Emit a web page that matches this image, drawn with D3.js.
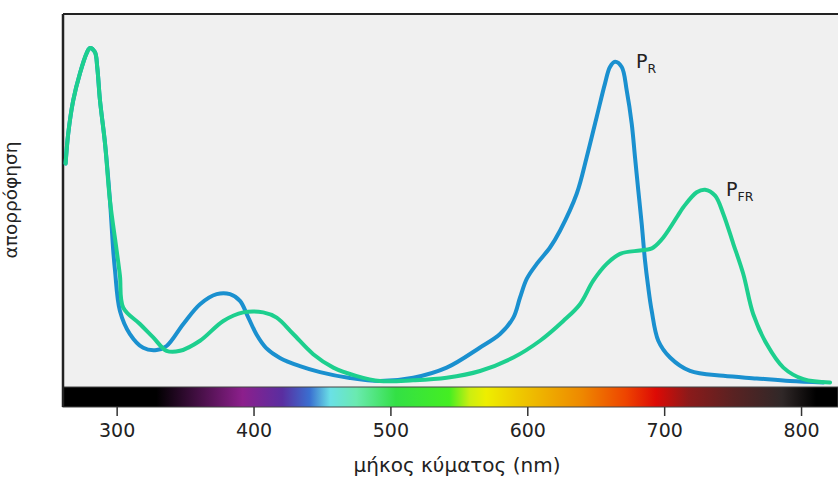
<!DOCTYPE html>
<html>
<head>
<meta charset="utf-8">
<script src="https://cdn.jsdelivr.net/npm/d3@7"></script>
<style>
  body { margin: 0; background: #fff; }
  text { font-family: "DejaVu Sans", sans-serif; fill: #222; }
</style>
</head>
<body>
<svg class="chart"></svg>
<script>
// wavelengths (nm) and relative absorbance
const prWavelength = [262.7, 264.6, 268.3, 273.2, 278.1, 280.5, 284.1, 285.8, 287.8, 291.5, 295.1,
  297.5, 298.8, 302.4, 309.7, 319.4, 329.2, 336.5, 348.7, 360.9, 373.1, 382.8, 390.1, 396.2, 402.3,
  409.1, 419.3, 433.9, 448.6, 470.4, 492.4, 516.7, 541.1, 565.5, 580.1, 589.8, 594.7, 599.6, 606.9,
  616.6, 623.9, 636.1, 643.4, 650.7, 656.8, 660.4, 664.1, 669.0, 672.6, 676.3, 678.7, 681.1, 683.6,
  686.0, 688.2, 690.9, 695.7, 704.3, 718.9, 743.2, 767.6, 791.9, 816.3];
const prAbsorbance = [0.599, 0.679, 0.769, 0.841, 0.895, 0.909, 0.898, 0.858, 0.769, 0.653, 0.500,
  0.366, 0.312, 0.204, 0.142, 0.105, 0.099, 0.110, 0.169, 0.222, 0.249, 0.249, 0.231, 0.186, 0.140,
  0.105, 0.078, 0.056, 0.040, 0.024, 0.016, 0.025, 0.052, 0.106, 0.142, 0.186, 0.240, 0.290, 0.330,
  0.374, 0.419, 0.518, 0.616, 0.724, 0.814, 0.858, 0.872, 0.858, 0.796, 0.706, 0.616, 0.527, 0.437,
  0.339, 0.272, 0.204, 0.124, 0.079, 0.043, 0.030, 0.023, 0.016, 0.012];

const pfrWavelength = [262.7, 264.6, 268.3, 273.2, 278.1, 280.5, 284.1, 285.8, 287.8, 291.5, 295.1,
  300.0, 302.4, 304.8, 317.0, 326.7, 336.5, 346.3, 360.9, 377.9, 392.5, 407.1, 416.9, 429.0, 443.6,
  458.3, 474.9, 492.4, 516.5, 541.1, 565.5, 589.8, 609.3, 626.3, 638.5, 648.2, 658.0, 667.7, 682.3,
  689.7, 692.1, 699.4, 711.6, 714.0, 723.8, 729.9, 737.2, 743.2, 750.5, 757.8, 765.1, 774.9, 787.1,
  801.7, 821.2];
const pfrAbsorbance = [0.599, 0.679, 0.769, 0.841, 0.895, 0.909, 0.898, 0.858, 0.769, 0.653, 0.500,
  0.366, 0.298, 0.213, 0.169, 0.133, 0.097, 0.097, 0.124, 0.177, 0.200, 0.200, 0.186, 0.142, 0.088,
  0.052, 0.030, 0.016, 0.018, 0.025, 0.043, 0.079, 0.124, 0.177, 0.222, 0.285, 0.330, 0.357, 0.366,
  0.370, 0.374, 0.401, 0.469, 0.482, 0.522, 0.529, 0.513, 0.464, 0.384, 0.303, 0.195, 0.115, 0.052,
  0.021, 0.012];

const xTicks = [300, 400, 500, 600, 700, 800];

// visible light spectrum under the plot
const spectrumNm = [329, 392, 421, 441, 456, 475, 504, 543, 558, 570, 592, 640, 672, 694, 718, 750, 786, 811];
const spectrumColor = ["#000000", "#8c1f8c", "#5a2ea0", "#3a6fd0", "#6ae0e6", "#6aeab0", "#33e045",
  "#44ee22", "#ccee11", "#eeee00", "#eecc00", "#ee8800", "#ee4400", "#dd0a05", "#8b1a1a", "#5a2222",
  "#302828", "#000000"];

const series = [
  {name: "R", color: "#1a90cf", wl: prWavelength, ab: prAbsorbance},
  {name: "FR", color: "#1dcf8e", wl: pfrWavelength, ab: pfrAbsorbance}
];

const margin = {top: 14, right: 0, bottom: 90, left: 63};
const width = 838 - margin.left - margin.right;
const height = 477 - margin.top - margin.bottom;
const barHeight = 20;

const x = d3.scaleLinear().domain([260.8, 827]).range([0, width]);
const y = d3.scaleLinear().domain([0, 1]).range([height, 0]);

const svg = d3.select(".chart")
    .attr("width", 838)
    .attr("height", 477)
  .append("g")
    .attr("transform", "translate(" + margin.left + "," + margin.top + ")");

svg.append("rect")
    .attr("width", width)
    .attr("height", height)
    .style("fill", "#f0f0f0");

// spectrum bar
const grad = svg.append("defs").append("linearGradient")
    .attr("id", "spectrum")
    .attr("gradientUnits", "userSpaceOnUse")
    .attr("x1", 0).attr("x2", width).attr("y1", 0).attr("y2", 0);

grad.selectAll("stop")
    .data(spectrumNm)
  .enter().append("stop")
    .attr("offset", d => x(d) / width)
    .attr("stop-color", (d, i) => spectrumColor[i]);

svg.append("rect")
    .attr("y", height)
    .attr("width", width)
    .attr("height", barHeight)
    .style("fill", "url(#spectrum)")
    .style("stroke", "#444")
    .style("stroke-width", 1);

// x axis below the bar
const xAxis = svg.append("g")
    .attr("transform", "translate(0," + (height + barHeight) + ")")
    .call(d3.axisBottom(x).tickValues(xTicks).tickSize(9).tickPadding(8));

xAxis.select(".domain").remove();
xAxis.selectAll(".tick line").style("stroke", "#333").style("stroke-width", 1.5);
xAxis.selectAll(".tick text")
    .style("font-family", "DejaVu Sans, sans-serif")
    .style("font-size", "19px")
    .style("fill", "#222");

// frame: left and top
svg.append("line")
    .attr("x1", 0).attr("x2", 0)
    .attr("y1", 0).attr("y2", height + barHeight)
    .style("stroke", "#222").style("stroke-width", 2.5);

svg.append("line")
    .attr("x1", 0).attr("x2", width)
    .attr("y1", 0).attr("y2", 0)
    .style("stroke", "#222").style("stroke-width", 2);

const line = d3.line()
    .x(d => x(d[0]))
    .y(d => y(d[1]))
    .curve(d3.curveCatmullRom.alpha(0.5));

series.forEach(s => {
  const pts = s.wl.map((w, i) => [w, s.ab[i]]);
  svg.append("path")
      .datum(pts)
      .attr("d", line)
      .style("fill", "none")
      .style("stroke", s.color)
      .style("stroke-width", 4)
      .style("stroke-linecap", "round")
      .style("stroke-linejoin", "round");

  // label next to the red / far-red peak
  const sub = s.name === "R" ? pts.filter(p => p[0] > 600) : pts.filter(p => p[0] > 700);
  const peak = sub.reduce((a, b) => b[1] > a[1] ? b : a);
  const label = svg.append("text")
      .attr("x", x(peak[0]) + 21)
      .attr("y", y(peak[1]) + 6)
      .style("font-size", "19px");
  label.append("tspan").text("P");
  label.append("tspan")
      .attr("dy", 5)
      .style("font-size", "12.5px")
      .text(s.name);
});

// axis titles
svg.append("text")
    .attr("x", width / 2 + 6.5)
    .attr("y", height + 85)
    .style("text-anchor", "middle")
    .style("font-size", "20px")
    .text("μήκος κύματος (nm)");

svg.append("text")
    .attr("transform", "translate(" + (17 - margin.left) + "," + (200 - margin.top) + ") rotate(-90)")
    .style("text-anchor", "middle")
    .style("font-size", "18.5px")
    .text("απορρόφηση");
</script>
</body>
</html>
